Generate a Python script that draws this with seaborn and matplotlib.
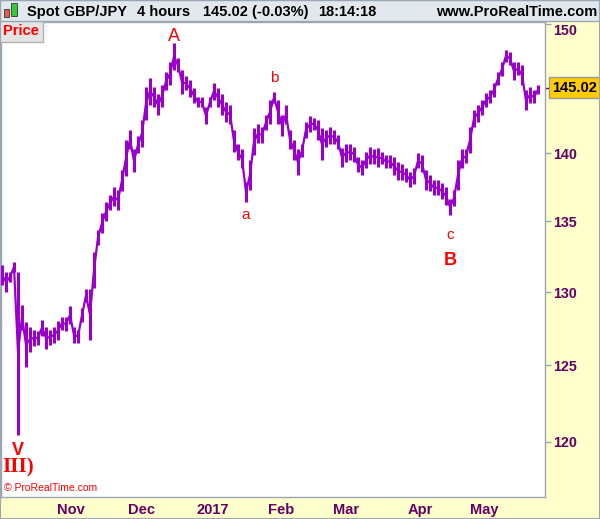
import matplotlib
matplotlib.use("Agg")
import matplotlib.pyplot as plt
import matplotlib.ticker as mticker
from matplotlib.patches import Rectangle
import numpy as np
import pandas as pd
import seaborn as sns

# --- DATOS: GBP/JPY 4h, agrupado en bloques (~1.25 dias de mercado), minimo/maximo ---
price_low = [130.5, 130.0, 130.7, 131.4, 120.4, 127.4, 124.9, 125.9, 126.3, 126.4,
             127.0, 126.1, 126.4, 126.5, 126.7, 127.4, 127.3, 127.8, 126.5, 126.5,
             127.9, 129.3, 126.7, 130.3, 133.3, 134.2, 135.0, 135.8, 136.1, 135.8,
             137.2, 138.3, 140.3, 138.6, 140.0, 140.5, 142.5, 143.7, 143.5, 142.9,
             143.5, 144.8, 145.2, 146.4, 146.2, 144.5, 144.8, 144.3, 143.8, 143.5,
             143.5, 142.2, 143.5, 144.1, 143.5, 142.9, 142.4, 142.2, 140.1, 139.5,
             138.9, 136.4, 137.3, 139.9, 140.8, 140.8, 141.8, 142.2, 143.8, 142.2,
             141.3, 142.2, 140.3, 139.5, 138.4, 139.7, 141.2, 141.6, 141.8, 141.0,
             139.5, 140.5, 140.7, 140.7, 140.3, 139.0, 139.4, 139.5, 139.4, 138.6,
             138.4, 138.9, 139.2, 139.2, 139.0, 139.2, 138.9, 138.9, 138.4, 138.0,
             138.0, 137.9, 137.5, 137.7, 138.9, 138.6, 137.3, 137.2, 136.9, 136.9,
             136.6, 136.2, 135.5, 136.1, 137.3, 138.9, 139.3, 140.0, 142.0, 142.4,
             142.9, 143.5, 143.8, 144.3, 145.2, 145.9, 147.0, 146.8, 145.6, 146.0,
             145.2, 143.3, 143.8, 143.8, 144.5]
price_high = [131.9, 131.4, 131.4, 132.1, 131.4, 129.1, 127.9, 127.6, 127.4, 127.3,
              128.1, 127.6, 127.4, 127.6, 128.0, 128.3, 128.3, 129.0, 127.6, 127.4,
              128.9, 130.2, 130.2, 132.8, 134.4, 135.6, 136.4, 136.9, 137.5, 137.3,
              138.8, 141.0, 141.8, 140.3, 141.3, 142.5, 145.1, 145.8, 145.1, 144.5,
              145.2, 146.2, 147.0, 148.5, 147.3, 146.4, 145.9, 145.6, 145.0, 144.3,
              144.3, 143.5, 144.3, 145.4, 145.0, 144.5, 143.9, 143.7, 141.8, 140.7,
              140.3, 137.9, 139.5, 141.9, 142.2, 142.0, 142.9, 144.1, 144.7, 144.1,
              142.9, 143.7, 141.8, 141.0, 140.3, 140.7, 142.4, 142.8, 142.7, 142.5,
              141.9, 141.8, 142.0, 141.8, 141.4, 140.4, 140.7, 140.7, 140.5, 139.7,
              139.5, 140.1, 140.5, 140.3, 140.4, 140.1, 139.9, 139.9, 139.7, 139.4,
              139.2, 138.9, 138.6, 138.9, 140.0, 139.9, 138.8, 138.4, 138.0, 138.0,
              137.8, 137.5, 136.6, 137.3, 139.5, 140.3, 140.3, 142.0, 143.3, 143.7,
              144.1, 144.6, 144.8, 145.4, 146.2, 147.0, 148.0, 147.8, 147.0, 147.0,
              146.8, 144.8, 145.1, 144.8, 145.2]
last_price = 145.02

month_labels = ["Nov", "Dec", "2017", "Feb", "Mar", "Apr", "May"]
month_start_bar = [17.2, 34.9, 52.7, 69.9, 85.9, 104.65, 120.6]
price_ticks = [120, 125, 130, 135, 140, 150]

# etiquetas de ondas de Elliott: (texto, bloque, lado, desplazamiento en pt, tamano, peso, familia)
wave_labels = [
    ("A", 43, "top", -1, 13, "normal", "Liberation Sans"),
    ("a", 61, "bottom", -4, 11, "normal", "Liberation Sans"),
    ("b", 68, "top", 5, 11, "normal", "Liberation Sans"),
    ("c", 112, "bottom", -10, 11, "normal", "Liberation Sans"),
    ("B", 112, "bottom", -27, 13, "bold", "Liberation Sans"),
    ("V", 4, "bottom", -5, 13, "bold", "Liberation Sans"),
    ("III)", 4, "bottom", -16, 15, "bold", "Liberation Serif"),
]

header_items = [("Spot GBP/JPY", 27), ("4 hours", 137), ("145.02 (-0.03%)", 203), ("18:14:18", 318)]

PURPLE = "#9900cc"
AXIS_TXT = "#660066"
RED = "#ff0000"
GRID_GRAY = "#9aa7b3"

W, H = 600, 519


def px_rect(x0, y0, x1, y1):
    return (x0 / W, 1 - y1 / H), (x1 - x0) / W, (y1 - y0) / H


def main():
    sns.set_style("white")
    plt.rcParams["font.family"] = ["Liberation Sans", "DejaVu Sans"]

    df = pd.DataFrame({"bar": np.arange(len(price_low)),
                       "low": price_low, "high": price_high})
    df["mid"] = (df["low"] + df["high"]) / 2

    fig = plt.figure(figsize=(6, 5.19), dpi=100, facecolor="#ffffcc")

    # cabecera
    xy, w, h = px_rect(0, 0, 600, 21)
    fig.patches.append(Rectangle(xy, w, h, transform=fig.transFigure,
                                 fc="#e1e9ee", ec=GRID_GRAY, lw=1, zorder=0))
    # icono de velas
    for (x0, y0, x1, y1, c) in [(4, 9, 9, 17, "#ee5555"), (11, 3, 17, 16, "#33cc33")]:
        xy, w, h = px_rect(x0, y0, x1, y1)
        fig.patches.append(Rectangle(xy, w, h, transform=fig.transFigure,
                                     fc=c, ec="#333333", lw=0.6, zorder=1))
    for txt, x in header_items:
        fig.text(x / W, 1 - 12 / H, txt, ha="left", va="center",
                 fontsize=10.5, fontweight="bold", color="black")
    fig.text(597 / W, 1 - 12 / H, "www.ProRealTime.com", ha="right", va="center",
             fontsize=10.5, fontweight="bold", color="black")

    # area del grafico
    ax = fig.add_axes([1 / W, 1 - 497 / H, 544 / W, (497 - 22) / H])
    ax.set_facecolor("white")

    ax.vlines(df["bar"], df["low"], df["high"], color=PURPLE, lw=2.2, zorder=3)
    sns.lineplot(data=df, x="bar", y="mid", ax=ax, color=PURPLE, lw=1.6, zorder=3)

    ax.set_yscale("log")
    ax.set_ylim(116.5, 150.2)
    ax.set_xlim(-0.25, 135.75)

    ax.yaxis.set_major_locator(mticker.FixedLocator(price_ticks))
    ax.yaxis.set_minor_locator(mticker.NullLocator())
    ax.set_yticklabels([str(t) for t in price_ticks])
    ax.yaxis.tick_right()
    ax.tick_params(axis="y", direction="out", length=4, width=1, color=GRID_GRAY,
                   pad=1.5, labelsize=10.3, labelcolor=AXIS_TXT)
    for lab in ax.get_yticklabels():
        lab.set_fontweight("bold")
        if lab.get_text() == "150":
            lab.set_va("top")

    ax.set_xticks(month_start_bar)
    ax.set_xticklabels(month_labels)
    ax.tick_params(axis="x", direction="out", length=3, width=1, color=GRID_GRAY,
                   pad=1.5, labelsize=10.5, labelcolor=AXIS_TXT)
    for lab in ax.get_xticklabels():
        lab.set_fontweight("bold")
    ax.set_xlabel("")
    ax.set_ylabel("")
    for s in ax.spines.values():
        s.set_color(GRID_GRAY)
        s.set_linewidth(1)

    # etiqueta de ultimo precio
    trans = matplotlib.transforms.blended_transform_factory(ax.transAxes, ax.transData)
    ax.plot([1.0, 1.012], [last_price, last_price], color=AXIS_TXT, lw=1,
            transform=trans, clip_on=False)
    ax.text(1.0125, last_price, f"{last_price:.2f}", transform=trans, ha="left", va="center",
            fontsize=10.5, fontweight="bold", color="black", clip_on=False,
            bbox=dict(boxstyle="square,pad=0.22", fc="#ffcc00", ec="#999999", lw=1))

    # "Price"
    ax.text(0.004, 0.9815, "Price", transform=ax.transAxes, ha="left", va="center",
            fontsize=10.5, fontweight="bold", color=RED,
            bbox=dict(boxstyle="square,pad=0.28", fc="#e4e4e4", ec="#b0b0b0", lw=1))

    # ondas
    for txt, i, side, off, size, weight, fam in wave_labels:
        yv = df["high"][i] if side == "top" else df["low"][i]
        ax.annotate(txt, (df["bar"][i], yv), xytext=(0, off), textcoords="offset points",
                    ha="center", va="bottom" if side == "top" else "top",
                    fontsize=size, fontweight=weight, color=RED, family=fam,
                    annotation_clip=False)

    ax.text(0.006, 0.008, "\u00a9 ProRealTime.com", transform=ax.transAxes,
            ha="left", va="bottom", fontsize=7.5, color=RED)

    # borde exterior
    fig.patches.append(Rectangle((0, 0), 1, 1, transform=fig.transFigure,
                                 fill=False, ec=GRID_GRAY, lw=1.5, zorder=5))

    fig.savefig("out.png", dpi=100, facecolor=fig.get_facecolor())


if __name__ == "__main__":
    main()
